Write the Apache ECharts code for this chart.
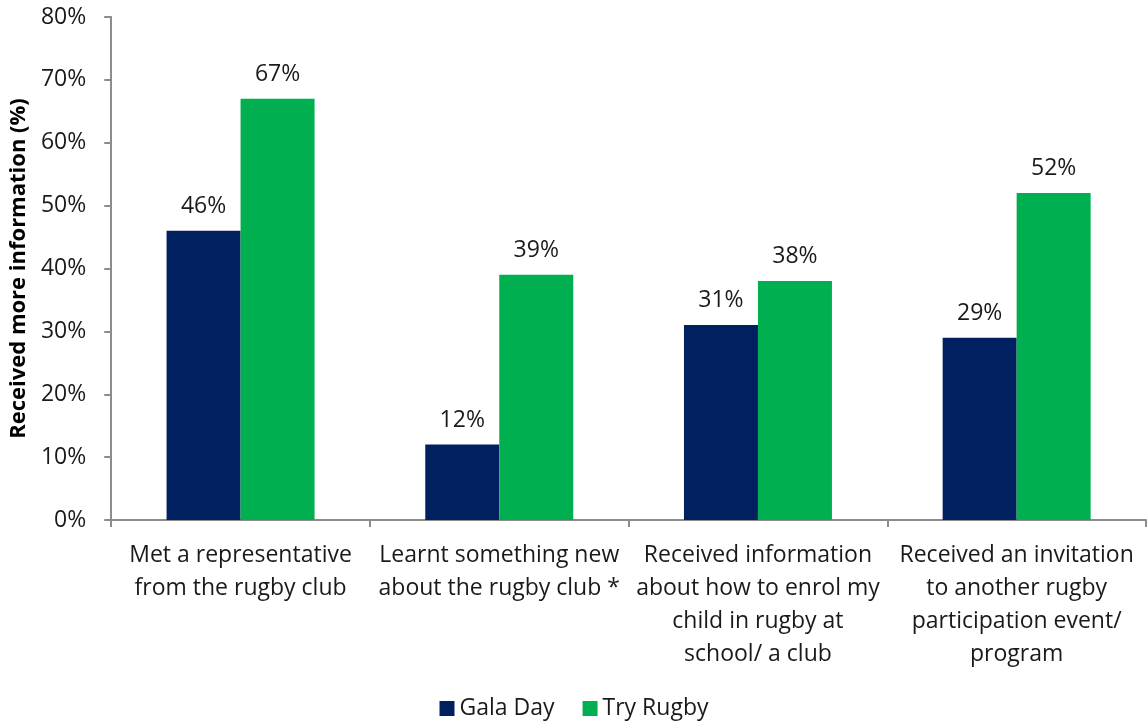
<!DOCTYPE html>
<html>
<head>
<meta charset="utf-8">
<script src="https://cdn.jsdelivr.net/npm/echarts@6/dist/echarts.min.js"></script>
<style>
  html, body { margin: 0; padding: 0; background: #fff; }
  #chart { width: 1148px; height: 722px; }
</style>
</head>
<body>
<div id="chart"></div>
<script>
// Share of respondents who received more information, by activity type
const categories = [
  'Met a representative\nfrom the rugby club',
  'Learnt something new\nabout the rugby club *',
  'Received information\nabout how to enrol my\nchild in rugby at\nschool/ a club',
  'Received an invitation\nto another rugby\nparticipation event/\nprogram'
];
const galaDay = [46, 12, 31, 29];
const tryRugby = [67, 39, 38, 52];
const seriesNames = ['Gala Day', 'Try Rugby'];
const yTicks = { min: 0, max: 80, interval: 10 };

const FONT = '"Open Sans", Lato, sans-serif';
const chart = echarts.init(document.getElementById('chart'), null, { renderer: 'canvas' });

const labelStyle = {
  show: true,
  position: 'top',
  distance: 13,
  formatter: p => p.value + '%',
  color: '#1a1a1a',
  fontFamily: FONT,
  fontSize: 23
};

chart.setOption({
  animation: false,
  textStyle: { fontFamily: FONT },
  grid: { left: 110, right: 2, top: 17, bottom: 202, containLabel: false },
  legend: {
    top: 692,
    left: 'center',
    icon: 'rect',
    itemWidth: 15,
    itemHeight: 15,
    itemGap: 28,
    textStyle: { fontFamily: FONT, fontSize: 23, color: '#1a1a1a' },
    data: seriesNames
  },
  xAxis: {
    type: 'category',
    data: categories,
    axisLine: { lineStyle: { color: '#8c8c8c', width: 2 } },
    axisTick: { show: true, length: 7, alignWithLabel: false, lineStyle: { color: '#8c8c8c', width: 2 } },
    axisLabel: {
      interval: 0,
      margin: 19,
      fontFamily: FONT,
      fontSize: 23,
      lineHeight: 33,
      color: '#1a1a1a'
    }
  },
  yAxis: {
    type: 'value',
    min: yTicks.min,
    max: yTicks.max,
    interval: yTicks.interval,
    name: 'Received more information (%)',
    nameLocation: 'middle',
    nameGap: 80,
    nameTextStyle: { fontFamily: FONT, fontSize: 22, fontWeight: 'bold', color: '#000' },
    axisLine: { show: true, lineStyle: { color: '#8c8c8c', width: 2 } },
    axisTick: { show: true, length: 7, lineStyle: { color: '#8c8c8c', width: 2 } },
    splitLine: { show: false },
    axisLabel: {
      margin: 25,
      formatter: v => v + '%',
      fontFamily: FONT,
      fontSize: 23,
      color: '#1a1a1a'
    }
  },
  series: [
    {
      name: seriesNames[0],
      type: 'bar',
      data: galaDay,
      barWidth: 74,
      barGap: 0,
      itemStyle: { color: '#002060' },
      label: labelStyle
    },
    {
      name: seriesNames[1],
      type: 'bar',
      data: tryRugby,
      barWidth: 74,
      barGap: 0,
      itemStyle: { color: '#00B050' },
      label: labelStyle
    }
  ]
});
</script>
</body>
</html>
